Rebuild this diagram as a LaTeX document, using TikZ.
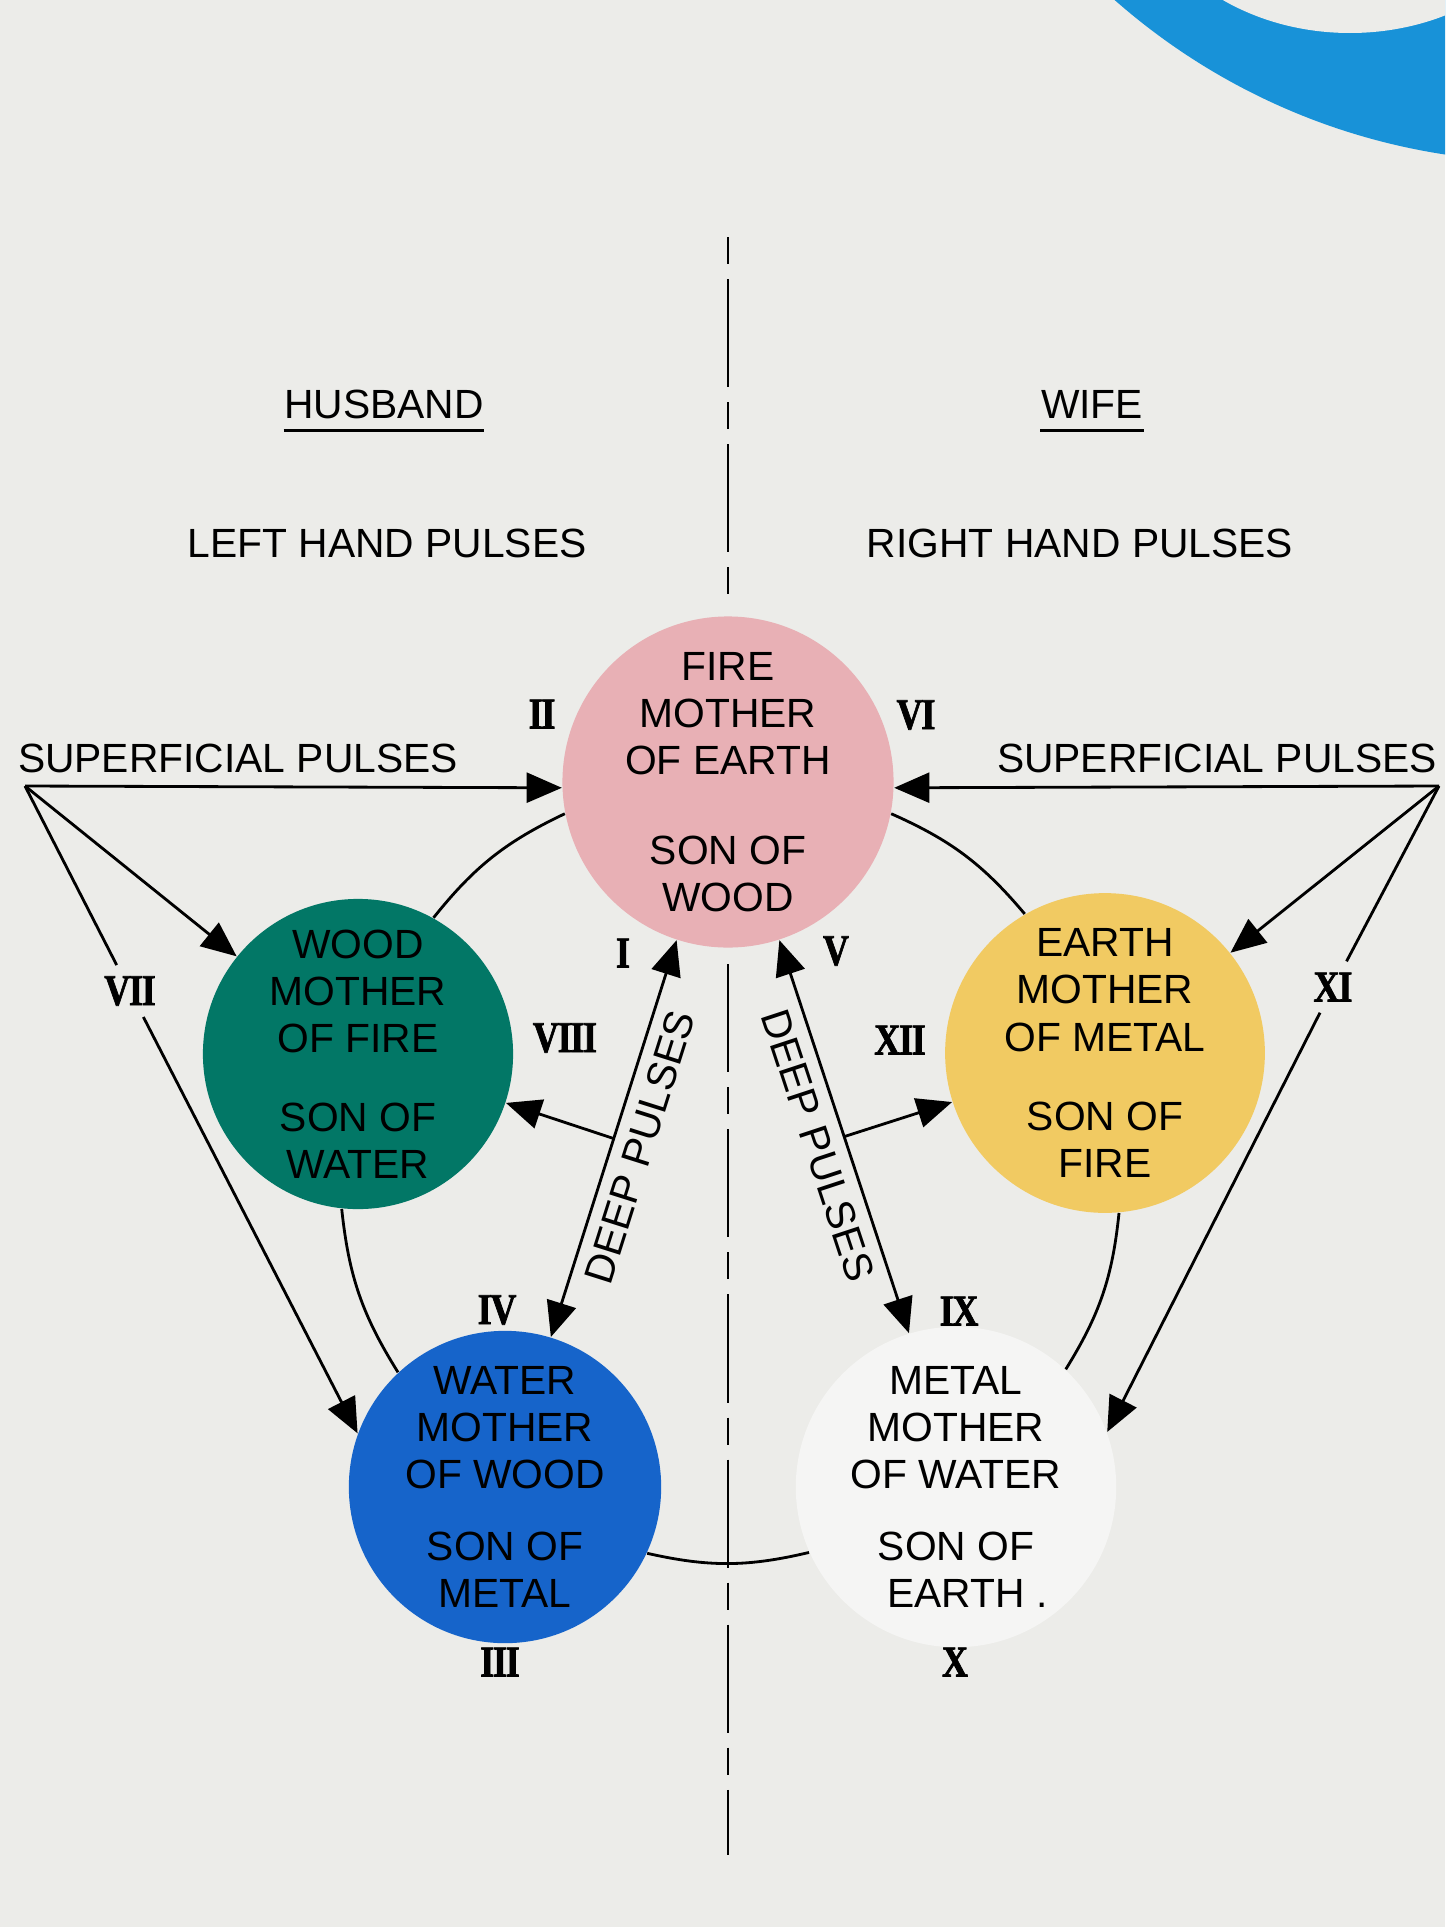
\documentclass[tikz,border=0pt]{standalone}
\usepackage{fontspec}
\setmainfont{Liberation Sans}
\newfontfamily\numeralfont{Liberation Serif}[FakeStretch=0.82, FakeBold=1.6, LetterSpace=-3]
\usetikzlibrary{arrows.meta}

\definecolor{paper}{RGB}{236,236,233}
\definecolor{firepink}{RGB}{232,176,181}
\definecolor{woodgreen}{RGB}{2,119,102}
\definecolor{waterblue}{RGB}{22,100,202}
\definecolor{earthyellow}{RGB}{241,202,98}
\definecolor{metalwhite}{RGB}{245,245,244}
\definecolor{bandblue}{RGB}{24,146,216}

\begin{document}
\begin{tikzpicture}[
    x=0.01cm, y=-0.01cm,
    every node/.style={font=\fontsize{11.6}{13.4}\selectfont},
    element/.style={circle, minimum size=3.1cm, inner sep=0pt, align=center},
    heading/.style={inner sep=0pt, anchor=base},
    numeral/.style={font=\numeralfont\bfseries\fontsize{12.5}{14}\selectfont, inner sep=3pt},
    pulse/.style={line width=0.8pt, -{Triangle[length=10pt, width=8.5pt]}},
    deep/.style={line width=0.8pt, {Triangle[length=10pt, width=8.5pt]}-{Triangle[length=10pt, width=8.5pt]}},
    cyclearc/.style={line width=0.8pt},
    %   cyclearc/.style={line width=0.8pt, gray},
    divider/.style={line width=0.8pt, dash pattern=on 0.27cm off 0.15cm on 1.08cm off 0.15cm}
   ]
   \fill[paper] (0,0) rectangle (1445,1927);
   \useasboundingbox (0,0) rectangle (1445,1927);
   % blue band of the next page figure
   \begin{scope}
    \clip (0,0) rectangle (1445,1927);
    \fill[bandblue] (1544,-488) circle [radius=650];
    \fill[paper] (1350,-150) ellipse [x radius=222, y radius=183];
   \end{scope}

   \node[heading] (husband) at (384,418) {HUSBAND};
   \node[heading] (wife) at (1092,418) {WIFE};
   \draw[line width=0.9pt] ([yshift=-3.5pt]husband.base west) -- ([yshift=-3.5pt]husband.base east);
   \draw[line width=0.9pt] ([yshift=-3.5pt]wife.base west) -- ([yshift=-3.5pt]wife.base east);
   \node[heading] (lefthand) at (387,557) {LEFT HAND PULSES};
   \node[heading] (righthand) at (1080,557) {RIGHT HAND PULSES};
   \node[heading] (superL) at (238,772) {SUPERFICIAL PULSES};
   \node[heading] (superR) at (1217,772) {SUPERFICIAL PULSES};

   \node[element, fill=firepink] (fire) at (728,782) {FIRE\\MOTHER\\OF EARTH\\[0.43cm]SON OF\\WOOD};
   \node[element, fill=woodgreen] (wood) at (358,1054) {WOOD\\MOTHER\\OF FIRE\\[0.32cm]SON OF\\WATER};
   \node[element, fill=waterblue] (water) at (505,1487) {WATER\\MOTHER\\OF WOOD\\[0.25cm]SON OF\\METAL};
   \node[element, fill=metalwhite] (metal) at (956,1487) {METAL\\MOTHER\\OF WATER\\[0.25cm]SON OF\\EARTH\rlap{~.}};
   \node[element, fill=earthyellow] (earth) at (1105,1053) {EARTH\\MOTHER\\OF METAL\\[0.32cm]SON OF\\FIRE};

   \node[numeral] (rI) at (623,953) {I};
   \node[numeral] (rII) at (542,714) {II};
   \node[numeral] (rIII) at (500,1662) {III};
   \node[numeral] (rIV) at (497,1310) {IV};
   \node[numeral] (rV) at (836,951) {V};
   \node[numeral] (rVI) at (916,715) {VI};
   \node[numeral] (rVII) at (130,991) {VII};
   \node[numeral] (rVIII) at (565,1038) {VIII};
   \node[numeral] (rIX) at (959,1311) {IX};
   \node[numeral] (rX) at (955,1662) {X};
   \node[numeral] (rXI) at (1333,987) {XI};
   \node[numeral] (rXII) at (900,1040) {XII};

   % mother and son
   \draw[cyclearc] (fire.191) to[bend right=13] (wood.61);
   \draw[cyclearc] (wood.264) to[bend right=13] (water.133);
   \draw[cyclearc] (water.335) to[bend right=13] (metal.204);
   \draw[cyclearc] (metal.47) to[bend right=13] (earth.275);
   \draw[cyclearc] (earth.120) to[bend right=13] (fire.349);

   % superficial pulses
   \coordinate (apexL) at (25,786);
   \coordinate (apexR) at (1439,786);
   \draw[pulse] (apexL) -- (fire.182);
   \draw[pulse] (apexL) -- (wood);
   \draw[cyclearc] (apexL) -- (rVII);
   \draw[pulse] (rVII) -- (water.160);
   \draw[pulse] (apexR) -- (fire.358);
   \draw[pulse] (apexR) -- (earth);
   \draw[cyclearc] (apexR) -- (rXI);
   \draw[pulse] (rXI) -- (metal.20);

   % deep pulses
   \draw[deep] (water.73) -- (fire.252)
     node[midway, sloped, below] (deepL) {DEEP PULSES}
     coordinate[midway] (branchL);
   \draw[pulse] (branchL) -- (wood);
   \draw[deep] (fire.288) -- (metal.107)
     node[midway, sloped, below] (deepR) {DEEP PULSES}
     coordinate[midway] (branchR);
   \draw[pulse] (branchR) -- (earth);

   \coordinate (divtop) at (728,237);
   \coordinate (divbot) at (728,1855);
   \draw[divider, shorten >=0.16cm] (divtop) -- (fire.north);
   \draw[divider, dash phase=0.42cm, shorten <=0.16cm] (fire.south) -- (divbot);
  \end{tikzpicture}
\end{document}
